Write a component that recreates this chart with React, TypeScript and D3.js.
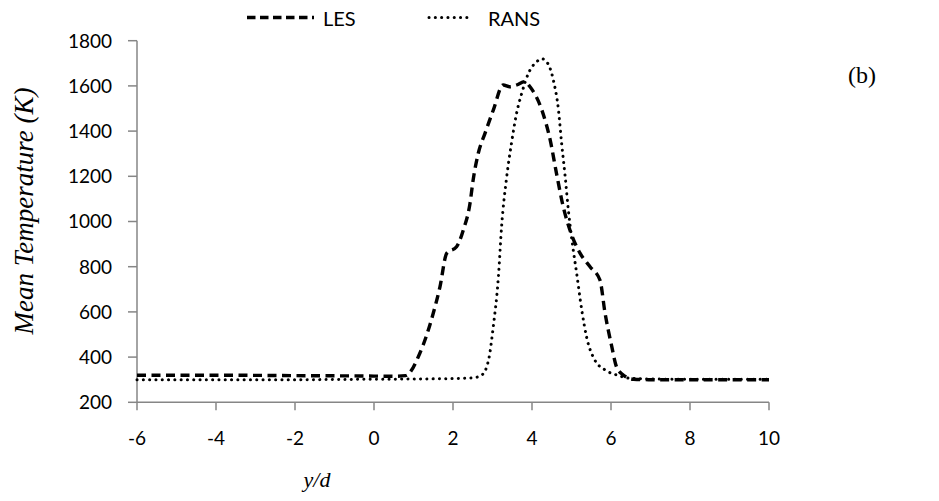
import React from "react";
import * as d3 from "d3";

const xTicks = [-6, -4, -2, 0, 2, 4, 6, 8, 10];
const yTicks = [200, 400, 600, 800, 1000, 1200, 1400, 1600, 1800];

const lesX = [-6, -4, -2, 0, 0.5, 0.8, 1.16, 1.5, 1.67, 1.84, 2.09, 2.26, 2.43, 2.51, 2.64, 2.81, 3.02, 3.27, 3.44, 3.61, 3.82, 3.95, 4.25, 4.46, 4.62, 4.79, 4.96, 5.22, 5.47, 5.72, 5.85, 6.02, 6.14, 6.31, 6.57, 7, 8, 9, 10];
const lesY = [320, 320, 318, 316, 315, 318, 417, 594, 711, 859, 888, 962, 1080, 1184, 1302, 1390, 1493, 1604, 1596, 1604, 1619, 1596, 1493, 1361, 1213, 1066, 962, 859, 800, 741, 594, 446, 357, 321, 302, 300, 300, 300, 300];

const ransX = [-6, -4, -2, 0, 1, 2, 2.5, 2.73, 2.9, 3.02, 3.15, 3.23, 3.36, 3.48, 3.61, 3.74, 3.91, 4.12, 4.25, 4.37, 4.54, 4.67, 4.75, 4.84, 4.92, 5.01, 5.13, 5.26, 5.38, 5.59, 5.85, 6.14, 6.5, 7, 8, 9, 10];
const ransY = [300, 300, 300, 302, 303, 305, 308, 321, 387, 535, 756, 977, 1198, 1346, 1479, 1567, 1656, 1707, 1720, 1707, 1626, 1493, 1346, 1198, 1051, 918, 771, 608, 490, 387, 343, 321, 306, 303, 302, 302, 302];

const W = 939;
const H = 501;
const x = d3.scaleLinear().domain([-6, 10]).range([137, 769]);
const y = d3.scaleLinear().domain([200, 1800]).range([402.3, 40.7]);

const line = d3
  .line<[number, number]>()
  .x((d) => x(d[0]))
  .y((d) => y(d[1]))
  .curve(d3.curveMonotoneX);

const les = lesX.map((v, i) => [v, lesY[i]] as [number, number]);
const rans = ransX.map((v, i) => [v, ransY[i]] as [number, number]);

const sans = "Lato, 'Open Sans', sans-serif";
const serif = "'Liberation Serif', 'DejaVu Serif', serif";
const axisColor = "#868686";

export default function App() {
  return (
    <svg
      width={W}
      height={H}
      style={{ position: "absolute", left: 0, top: 0, background: "#fff" }}
    >
      {/* axes */}
      <line x1={x(-6)} x2={x(10)} y1={y(200)} y2={y(200)} stroke={axisColor} strokeWidth={1.5} />
      <line x1={x(-6)} x2={x(-6)} y1={y(200)} y2={y(1800)} stroke={axisColor} strokeWidth={1.5} />
      {yTicks.map((t) => (
        <g key={"y" + t}>
          <line x1={x(-6) - 9} x2={x(-6)} y1={y(t)} y2={y(t)} stroke={axisColor} strokeWidth={1.5} />
          <text x={112} y={y(t)} dy="0.36em" textAnchor="end" fontFamily={sans} fontSize={19} fill="#000">
            {t}
          </text>
        </g>
      ))}
      {xTicks.map((t) => (
        <g key={"x" + t}>
          <line x1={x(t)} x2={x(t)} y1={y(200)} y2={y(200) + 8} stroke={axisColor} strokeWidth={1.5} />
          <text x={x(t)} y={445} textAnchor="middle" fontFamily={sans} fontSize={19} fill="#000">
            {t}
          </text>
        </g>
      ))}

      {/* series */}
      <path d={line(rans) || ""} fill="none" stroke="#000" strokeWidth={3} strokeDasharray="0.1 6.2" strokeLinecap="round" />
      <path d={line(les) || ""} fill="none" stroke="#000" strokeWidth={3.4} strokeDasharray="9 5.5" />

      {/* legend */}
      <line x1={247} x2={314} y1={17.5} y2={17.5} stroke="#000" strokeWidth={3.4} strokeDasharray="8.5 4.5" />
      <text x={323} y={26} fontFamily={sans} fontSize={20} fill="#000">LES</text>
      <line x1={429} x2={467} y1={17.5} y2={17.5} stroke="#000" strokeWidth={3} strokeDasharray="0.1 6.2" strokeLinecap="round" />
      <text x={488} y={26} fontFamily={sans} fontSize={20} fill="#000">RANS</text>

      {/* axis titles */}
      <text x={317} y={487} textAnchor="middle" fontFamily={serif} fontStyle="italic" fontSize={22} fill="#000">
        y/d
      </text>
      <text
        transform={`translate(33, ${211}) rotate(-90)`}
        textAnchor="middle"
        fontFamily={serif}
        fontStyle="italic"
        fontSize={27}
        fill="#000"
      >
        Mean Temperature (K)
      </text>
      <text x={848} y={83} fontFamily={serif} fontSize={24} fill="#000">(b)</text>
    </svg>
  );
}
